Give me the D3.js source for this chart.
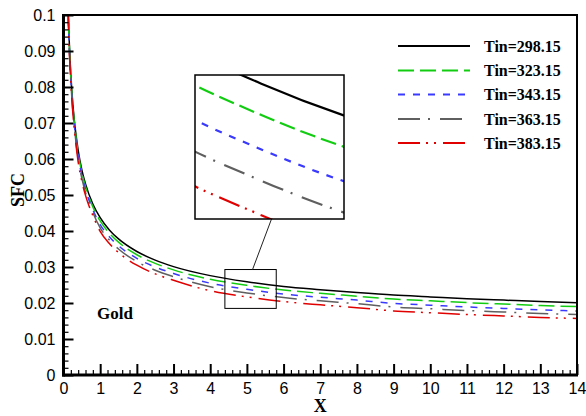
<!DOCTYPE html>
<html><head><meta charset="utf-8">
<script src="https://cdn.jsdelivr.net/npm/d3@7"></script>
<style>html,body{margin:0;padding:0;background:#fff;}svg{display:block;}</style>
</head><body>
<svg id="chart" width="586" height="416"></svg>
<script>
const xValues = [0.12,0.15,0.2,0.25,0.3,0.4,0.5,0.6,0.8,1,1.25,1.5,2,2.5,3,4,5,6,7,8,9,10,11,12,13,14];
const sfc298 = [0.1045,0.0946,0.0835,0.0759,0.0703,0.0624,0.0570,0.0531,0.0475,0.0437,0.0403,0.0378,0.0343,0.0319,0.0301,0.0276,0.0259,0.0246,0.0237,0.0229,0.0222,0.0217,0.0212,0.0208,0.0204,0.0201];
const sfc323 = [0.1039,0.0940,0.0829,0.0753,0.0697,0.0616,0.0562,0.0523,0.0467,0.0428,0.0394,0.0369,0.0334,0.0310,0.0292,0.0266,0.0249,0.0236,0.0227,0.0219,0.0211,0.0206,0.0201,0.0197,0.0193,0.0190];
const sfc343 = [0.1032,0.0933,0.0822,0.0746,0.0690,0.0608,0.0554,0.0515,0.0459,0.0418,0.0384,0.0359,0.0324,0.0300,0.0282,0.0255,0.0238,0.0225,0.0216,0.0208,0.0199,0.0194,0.0189,0.0185,0.0181,0.0178];
const sfc363 = [0.1026,0.0927,0.0816,0.0740,0.0684,0.0600,0.0546,0.0507,0.0451,0.0409,0.0375,0.0350,0.0315,0.0291,0.0273,0.0245,0.0228,0.0215,0.0206,0.0198,0.0189,0.0184,0.0179,0.0175,0.0171,0.0168];
const sfc383 = [0.1020,0.0921,0.0810,0.0734,0.0678,0.0592,0.0538,0.0499,0.0443,0.0399,0.0365,0.0340,0.0305,0.0281,0.0263,0.0234,0.0217,0.0204,0.0195,0.0187,0.0178,0.0173,0.0168,0.0164,0.0160,0.0157];
const seriesNames = ["Tin=298.15","Tin=323.15","Tin=343.15","Tin=363.15","Tin=383.15"];
const seriesValues = [sfc298, sfc323, sfc343, sfc363, sfc383];
const xTicks = [0,1,2,3,4,5,6,7,8,9,10,11,12,13,14];
const yTicks = [0,0.01,0.02,0.03,0.04,0.05,0.06,0.07,0.08,0.09,0.1];
const zoomX = [4.4, 5.8];      // small box on main plot
const zoomY = [0.0185, 0.0293];
const insetX = [4.4, 5.76];    // inset view domain
const insetY = [0.02157, 0.02617];

const colors = ["#000000","#12cc12","#3a3aff","#5f5f5f","#e00000"];
const dashes = [null,"16,6","7,8","22,8,2,10","22,6,2,6,2,7"];

const svg = d3.select("#chart");
const L=63.5, R=577, T=15, B=375;
const x = d3.scaleLinear().domain([0,14]).range([L,R]);
const y = d3.scaleLinear().domain([0,0.1]).range([B,T]);

const defs = svg.append("defs");
defs.append("clipPath").attr("id","plotClip").append("rect")
  .attr("x",L).attr("y",T).attr("width",R-L).attr("height",B-T);

const line = d3.line().x(d=>x(d[0])).y(d=>y(d[1])).curve(d3.curveMonotoneX);
const gCurves = svg.append("g").attr("clip-path","url(#plotClip)");
seriesValues.forEach((vals,i)=>{
  gCurves.append("path")
    .attr("d", line(xValues.map((xv,j)=>[xv,vals[j]])))
    .attr("fill","none").attr("stroke",colors[i]).attr("stroke-width",1.5)
    .attr("stroke-dasharray",dashes[i]);
});

// minor ticks
const xMinor = d3.range(0,14.001,0.2).filter(v=>Math.abs(v-Math.round(v))>1e-6);
const yMinor = d3.range(0,0.1001,0.002).filter(v=>Math.abs(v*100-Math.round(v*100))>1e-6);
svg.append("g").attr("transform",`translate(0,${B})`)
  .call(d3.axisBottom(x).tickValues(xMinor).tickSize(-5).tickFormat(""))
  .call(g=>g.select(".domain").remove())
  .call(g=>g.selectAll("line").attr("stroke","#000").attr("stroke-width",1.2));
svg.append("g").attr("transform",`translate(${L},0)`)
  .call(d3.axisLeft(y).tickValues(yMinor).tickSize(-5).tickFormat(""))
  .call(g=>g.select(".domain").remove())
  .call(g=>g.selectAll("line").attr("stroke","#000").attr("stroke-width",1.2));

// major ticks with labels
svg.append("g").attr("transform",`translate(0,${B})`)
  .call(d3.axisBottom(x).tickValues(xTicks).tickSize(-11).tickPadding(8).tickFormat(d3.format("d")))
  .call(g=>g.select(".domain").remove())
  .call(g=>g.selectAll("line").attr("stroke","#000").attr("stroke-width",2))
  .call(g=>g.selectAll("text").attr("fill","#000").style("font-family","'Liberation Sans', Arial, sans-serif").style("font-size","16px"));
svg.append("g").attr("transform",`translate(${L},0)`)
  .call(d3.axisLeft(y).tickValues(yTicks).tickSize(-10).tickPadding(8).tickFormat(d=>d===0?"0":String(+d.toFixed(2))))
  .call(g=>g.select(".domain").remove())
  .call(g=>g.selectAll("line").attr("stroke","#000").attr("stroke-width",2))
  .call(g=>g.selectAll("text").attr("fill","#000").style("font-family","'Liberation Sans', Arial, sans-serif").style("font-size","16px"));

// frame
svg.append("line").attr("x1",L-1).attr("x2",R+1).attr("y1",T).attr("y2",T).attr("stroke","#000").attr("stroke-width",2);
svg.append("line").attr("x1",R).attr("x2",R).attr("y1",T).attr("y2",B).attr("stroke","#000").attr("stroke-width",2);
svg.append("line").attr("x1",L).attr("x2",L).attr("y1",T-1).attr("y2",B+1.5).attr("stroke","#000").attr("stroke-width",3);
svg.append("line").attr("x1",L-1.5).attr("x2",R+1).attr("y1",B).attr("y2",B).attr("stroke","#000").attr("stroke-width",3);

// zoom box on main plot
const zx0=x(zoomX[0]), zx1=x(zoomX[1]), zy0=y(zoomY[1]), zy1=y(zoomY[0]);
svg.append("rect").attr("x",zx0).attr("y",zy0).attr("width",zx1-zx0).attr("height",zy1-zy0)
  .attr("fill","none").attr("stroke","#000").attr("stroke-width",1);

// inset
const IL=195, IR=344, IT=75, IB=219;
svg.append("line").attr("x1",(IL+IR)/2+2).attr("y1",IB).attr("x2",(zx0+zx1)/2+2).attr("y2",zy0)
  .attr("stroke","#222").attr("stroke-width",1);
svg.append("rect").attr("x",IL).attr("y",IT).attr("width",IR-IL).attr("height",IB-IT).attr("fill","#fff");
defs.append("clipPath").attr("id","insetClip").append("rect")
  .attr("x",IL).attr("y",IT).attr("width",IR-IL).attr("height",IB-IT);
const xi = d3.scaleLinear().domain(insetX).range([IL,IR]);
const yi = d3.scaleLinear().domain(insetY).range([IB,IT]);
const lineI = d3.line().x(d=>xi(d[0])).y(d=>yi(d[1])).curve(d3.curveMonotoneX);
const gInset = svg.append("g").attr("clip-path","url(#insetClip)");
seriesValues.forEach((vals,i)=>{
  gInset.append("path")
    .attr("d", lineI(xValues.map((xv,j)=>[xv,vals[j]])))
    .attr("fill","none").attr("stroke",colors[i]).attr("stroke-width",2.2)
    .attr("stroke-dasharray",dashes[i]);
});
svg.append("rect").attr("x",IL).attr("y",IT).attr("width",IR-IL).attr("height",IB-IT)
  .attr("fill","none").attr("stroke","#000").attr("stroke-width",1.5);

// legend
const legY = [46,70.5,94.5,119,143];
const leg = svg.append("g");
seriesNames.forEach((n,i)=>{
  leg.append("line").attr("x1",398).attr("x2",470).attr("y1",legY[i]).attr("y2",legY[i])
    .attr("stroke",colors[i]).attr("stroke-width",i===0?2:1.8).attr("stroke-dasharray",dashes[i]);
  leg.append("text").attr("x",484).attr("y",legY[i]).attr("dy","0.35em").text(n)
    .style("font-family","'Liberation Serif','Times New Roman',serif").style("font-weight","bold").style("font-size","16px");
});

// titles
svg.append("text").attr("transform","translate(24,190) rotate(-90)").attr("text-anchor","middle").text("SFC")
  .style("font-family","'Liberation Serif','Times New Roman',serif").style("font-weight","bold").style("font-size","18px");
svg.append("text").attr("x",x(7)).attr("y",412).attr("text-anchor","middle").text("X")
  .style("font-family","'Liberation Serif','Times New Roman',serif").style("font-weight","bold").style("font-size","18px");
svg.append("text").attr("x",97).attr("y",319).text("Gold")
  .style("font-family","'Liberation Serif','Times New Roman',serif").style("font-weight","bold").style("font-size","17px");
</script>
</body></html>
